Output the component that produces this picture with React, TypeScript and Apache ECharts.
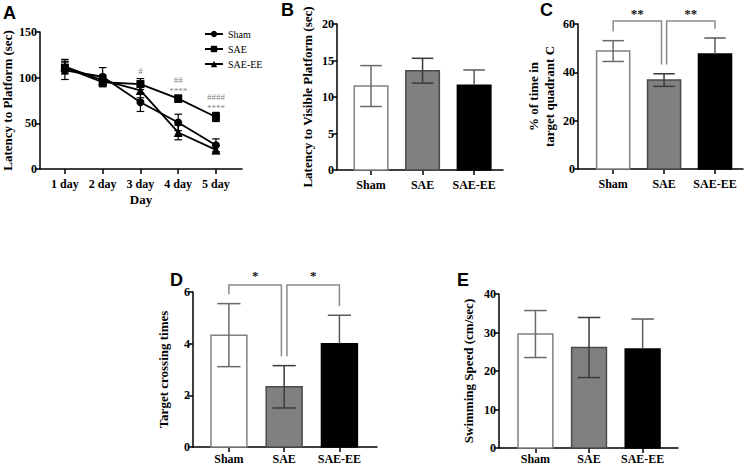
import React, { useEffect, useRef } from "react";
import * as echarts from "echarts";

// ---- Panel A: latency to platform (sec) over days ----
const days = ["1 day", "2 day", "3 day", "4 day", "5 day"];
const shamLatency = [108, 101, 73, 51, 26];
const shamLatencyErr = [10, 10, 10, 9, 7];
const saeLatency = [111, 95, 93, 77, 57];
const saeLatencyErr = [6, 5, 6, 4, 5];
const saeEeLatency = [112, 97, 86, 40, 21];
const saeEeLatencyErr = [8, 6, 8, 8, 4.5];
// significance marks: [day, y level, text]
const latencyMarks: [number, number, string][] = [
  [3, 107, "#"],
  [4, 97.5, "##"],
  [4, 85.5, "****"],
  [5, 79, "####"],
  [5, 67, "****"],
];

// ---- Bar panels ----
const groups = ["Sham", "SAE", "SAE-EE"];
const visibleLatency = [11.5, 13.6, 11.6];
const visibleLatencyErr = [2.8, 1.7, 2.1];
const quadrantTime = [48.8, 36.8, 47.6];
const quadrantTimeErr = [4.3, 2.6, 6.6];
const crossingTimes = [4.33, 2.33, 4.0];
const crossingTimesErr = [1.22, 0.82, 1.1];
const swimSpeed = [29.6, 26.1, 25.7];
const swimSpeedErr = [6.1, 7.8, 7.8];
// significance brackets: [from group, to group, label]
const quadrantSig: [number, number, string][] = [
  [0, 1, "**"],
  [1, 2, "**"],
];
const crossingSig: [number, number, string][] = [
  [0, 1, "*"],
  [1, 2, "*"],
];

const SERIF = "'Liberation Serif', 'Times New Roman', serif";
const barFill = ["#ffffff", "#808080", "#000000"];
const barStroke = ["#808080", "#4a4a4a", "#000000"];
const errColor = ["#6a6a6a", "#3a3a3a", "#5a5a5a"];
const errLowColor = ["#6a6a6a", "#3a3a3a", "#000000"];

function barRenderer(values: number[], errs: number[]) {
  return (params: any, api: any) => {
    const i = params.dataIndex;
    const x = api.value(0);
    const v = values[i];
    const e = errs[i];
    const bw = 0.65;
    const cw = 0.42;
    const tl = api.coord([x - bw / 2, v]);
    const br = api.coord([x + bw / 2, 0]);
    const mid = api.coord([x, v]);
    const top = api.coord([x, v + e]);
    const bot = api.coord([x, v - e]);
    const cl = api.coord([x - cw / 2, 0])[0];
    const cr = api.coord([x + cw / 2, 0])[0];
    return {
      type: "group",
      children: [
        {
          type: "rect",
          shape: { x: tl[0], y: tl[1], width: br[0] - tl[0], height: br[1] - tl[1] },
          style: { fill: barFill[i], stroke: barStroke[i], lineWidth: 1.5 },
        },
        {
          type: "line",
          shape: { x1: mid[0], y1: mid[1], x2: top[0], y2: top[1] },
          style: { stroke: errColor[i], lineWidth: 1.5 },
        },
        {
          type: "line",
          shape: { x1: cl, y1: top[1], x2: cr, y2: top[1] },
          style: { stroke: errColor[i], lineWidth: 1.5 },
        },
        {
          type: "line",
          shape: { x1: mid[0], y1: mid[1], x2: bot[0], y2: bot[1] },
          style: { stroke: errLowColor[i], lineWidth: 1.5 },
        },
        {
          type: "line",
          shape: { x1: cl, y1: bot[1], x2: cr, y2: bot[1] },
          style: { stroke: errLowColor[i], lineWidth: 1.5 },
        },
      ],
    };
  };
}

function bracketRenderer(
  sig: [number, number, string][],
  values: number[],
  errs: number[],
  topLevel: number,
  gap: number,
  labelLift: number
) {
  return (params: any, api: any) => {
    const [a, b, label] = sig[params.dataIndex];
    const xa = a + 1 + (a === 1 ? 0.05 : 0);
    const xb = b + 1 - (b === 1 ? 0.05 : 0);
    const ya = values[a] + errs[a] + gap;
    const yb = values[b] + errs[b] + gap;
    const p1 = api.coord([xa, ya]);
    const p2 = api.coord([xa, topLevel]);
    const p3 = api.coord([xb, topLevel]);
    const p4 = api.coord([xb, yb]);
    const t = api.coord([(xa + xb) / 2, topLevel + labelLift]);
    return {
      type: "group",
      children: [
        {
          type: "polyline",
          shape: { points: [p1, p2, p3, p4] },
          style: { stroke: "#8a8a8a", lineWidth: 1.5, fill: "none" },
        },
        {
          type: "text",
          x: t[0],
          y: t[1],
          style: {
            text: label,
            fill: "#111",
            font: `bold 13px ${SERIF}`,
            align: "center",
            verticalAlign: "middle",
          },
        },
      ],
    };
  };
}

function errRenderer(values: number[], errs: number[]) {
  return (params: any, api: any) => {
    const i = params.dataIndex;
    const x = i + 1;
    const v = values[i];
    const e = errs[i];
    const top = api.coord([x, v + e]);
    const bot = api.coord([x, v - e]);
    const cl = api.coord([x - 0.1, 0])[0];
    const cr = api.coord([x + 0.1, 0])[0];
    return {
      type: "group",
      children: [
        { type: "line", shape: { x1: top[0], y1: top[1], x2: bot[0], y2: bot[1] }, style: { stroke: "#000", lineWidth: 1.2 } },
        { type: "line", shape: { x1: cl, y1: top[1], x2: cr, y2: top[1] }, style: { stroke: "#000", lineWidth: 1.2 } },
        { type: "line", shape: { x1: cl, y1: bot[1], x2: cr, y2: bot[1] }, style: { stroke: "#000", lineWidth: 1.2 } },
      ],
    };
  };
}

const axisLineStyle = { show: true, lineStyle: { color: "#000", width: 1.5 } };
const axisTickStyle = { show: true, length: 5, lineStyle: { color: "#000", width: 1.5 } };
const tickLabel = { color: "#000", fontFamily: SERIF, fontWeight: "bold" as const, fontSize: 12 };

function xAxisFor(gridIndex: number, min: number, max: number, names: string[], margin = 9) {
  const vals = names.map((_, i) => i + 1);
  return {
    type: "value",
    gridIndex,
    min,
    max,
    axisLine: axisLineStyle,
    axisTick: { ...axisTickStyle, customValues: vals },
    axisLabel: {
      ...tickLabel,
      margin,
      customValues: vals,
      formatter: (v: number) => names[Math.round(v) - 1] ?? "",
    },
    splitLine: { show: false },
  };
}

function yAxisFor(gridIndex: number, max: number, interval: number, name: string, nameGap: number) {
  return {
    type: "value",
    gridIndex,
    min: 0,
    max,
    interval,
    name,
    nameLocation: "middle",
    nameRotate: 90,
    nameGap,
    nameTextStyle: { color: "#000", fontFamily: SERIF, fontWeight: "bold", fontSize: 13, lineHeight: 16 },
    axisLine: axisLineStyle,
    axisTick: axisTickStyle,
    axisLabel: { ...tickLabel, margin: 3 },
    splitLine: { show: false },
  };
}

export default function App() {
  const ref = useRef<HTMLDivElement>(null);
  useEffect(() => {
    if (!ref.current) return;
    const chart = echarts.init(ref.current, undefined, { renderer: "svg" });
    const barData = groups.map((_, i) => [i + 1, 0]);
    const lineSeries = (name: string, vals: number[], symbol: string, size: number) => ({
      name,
      type: "line",
      xAxisIndex: 0,
      yAxisIndex: 0,
      data: vals.map((v, i) => [i + 1, v]),
      symbol,
      symbolSize: size,
      itemStyle: { color: "#000" },
      lineStyle: { color: "#000", width: 1.8 },
      z: 5,
    });
    const option: any = {
      animation: false,
      backgroundColor: "#fff",
      grid: [
        { left: 40, top: 32, width: 202, height: 137, outerBoundsMode: "none" },
        { left: 337, top: 24, width: 166, height: 146, outerBoundsMode: "none" },
        { left: 578, top: 24, width: 165, height: 145, outerBoundsMode: "none" },
        { left: 193, top: 292, width: 184, height: 155, outerBoundsMode: "none" },
        { left: 499, top: 294, width: 179, height: 154, outerBoundsMode: "none" },
      ],
      xAxis: [
        { ...xAxisFor(0, 0.34, 5.69, days), name: "Day", nameLocation: "middle", nameGap: 24,
          nameTextStyle: { color: "#000", fontFamily: SERIF, fontWeight: "bold", fontSize: 13 } },
        xAxisFor(1, 0.34, 3.56, groups),
        xAxisFor(2, 0.31, 3.55, groups),
        xAxisFor(3, 0.35, 3.68, groups, 6),
        xAxisFor(4, 0.32, 3.66, groups, 5),
      ],
      yAxis: [
        yAxisFor(0, 150, 50, "Latency to Platform (sec)", 22),
        yAxisFor(1, 20, 5, "Latency to Visible Platform (sec)", 22),
        yAxisFor(2, 60, 20, "% of time in\ntarget quadrant C", 21),
        yAxisFor(3, 6, 2, "Target crossing times", 22),
        yAxisFor(4, 40, 10, "Swimming Speed (cm/sec)", 23),
      ],
      legend: {
        orient: "vertical",
        left: 199,
        top: 24,
        itemWidth: 18,
        itemHeight: 8,
        itemGap: 5,
        data: ["Sham", "SAE", "SAE-EE"],
        textStyle: { color: "#000", fontFamily: SERIF, fontSize: 10 },
      },
      series: [
        { type: "custom", xAxisIndex: 0, yAxisIndex: 0, data: shamLatency.map((v, i) => [i + 1, v]), renderItem: errRenderer(shamLatency, shamLatencyErr), z: 3 },
        { type: "custom", xAxisIndex: 0, yAxisIndex: 0, data: saeLatency.map((v, i) => [i + 1, v]), renderItem: errRenderer(saeLatency, saeLatencyErr), z: 3 },
        { type: "custom", xAxisIndex: 0, yAxisIndex: 0, data: saeEeLatency.map((v, i) => [i + 1, v]), renderItem: errRenderer(saeEeLatency, saeEeLatencyErr), z: 3 },
        lineSeries("Sham", shamLatency, "circle", 8),
        lineSeries("SAE", saeLatency, "rect", 8),
        lineSeries("SAE-EE", saeEeLatency, "triangle", 9),
        {
          type: "scatter",
          xAxisIndex: 0,
          yAxisIndex: 0,
          data: latencyMarks.map((m) => [m[0], m[1], m[2]]),
          symbolSize: 0,
          silent: true,
          label: {
            show: true,
            position: "inside",
            formatter: (p: any) => p.value[2],
            color: "#666",
            fontFamily: SERIF,
            fontSize: 9,
          },
        },
        { type: "custom", xAxisIndex: 1, yAxisIndex: 1, data: barData, renderItem: barRenderer(visibleLatency, visibleLatencyErr) },
        { type: "custom", xAxisIndex: 2, yAxisIndex: 2, data: barData, renderItem: barRenderer(quadrantTime, quadrantTimeErr) },
        { type: "custom", xAxisIndex: 3, yAxisIndex: 3, data: barData, renderItem: barRenderer(crossingTimes, crossingTimesErr) },
        { type: "custom", xAxisIndex: 4, yAxisIndex: 4, data: barData, renderItem: barRenderer(swimSpeed, swimSpeedErr) },
        {
          type: "custom", xAxisIndex: 2, yAxisIndex: 2, clip: false,
          data: quadrantSig.map((s) => [s[0] + 1, s[1] + 1]),
          renderItem: bracketRenderer(quadrantSig, quadrantTime, quadrantTimeErr, 61.2, 3.8, 3.3),
        },
        {
          type: "custom", xAxisIndex: 3, yAxisIndex: 3, clip: false,
          data: crossingSig.map((s) => [s[0] + 1, s[1] + 1]),
          renderItem: bracketRenderer(crossingSig, crossingTimes, crossingTimesErr, 6.27, 0.36, 0.35),
        },
      ],
      graphic: [
        { type: "text", left: 3, top: 4, style: { text: "A", font: "bold 18px 'Liberation Sans', Arial, sans-serif", fill: "#000" } },
        { type: "text", left: 281, top: 1, style: { text: "B", font: "bold 18px 'Liberation Sans', Arial, sans-serif", fill: "#000" } },
        { type: "text", left: 540, top: 1, style: { text: "C", font: "bold 18px 'Liberation Sans', Arial, sans-serif", fill: "#000" } },
        { type: "text", left: 170, top: 271, style: { text: "D", font: "bold 18px 'Liberation Sans', Arial, sans-serif", fill: "#000" } },
        { type: "text", left: 457, top: 271, style: { text: "E", font: "bold 18px 'Liberation Sans', Arial, sans-serif", fill: "#000" } },
      ],
    };
    chart.setOption(option);
    return () => chart.dispose();
  }, []);
  return <div ref={ref} style={{ position: "absolute", left: 0, top: 0, width: 750, height: 467 }} />;
}
